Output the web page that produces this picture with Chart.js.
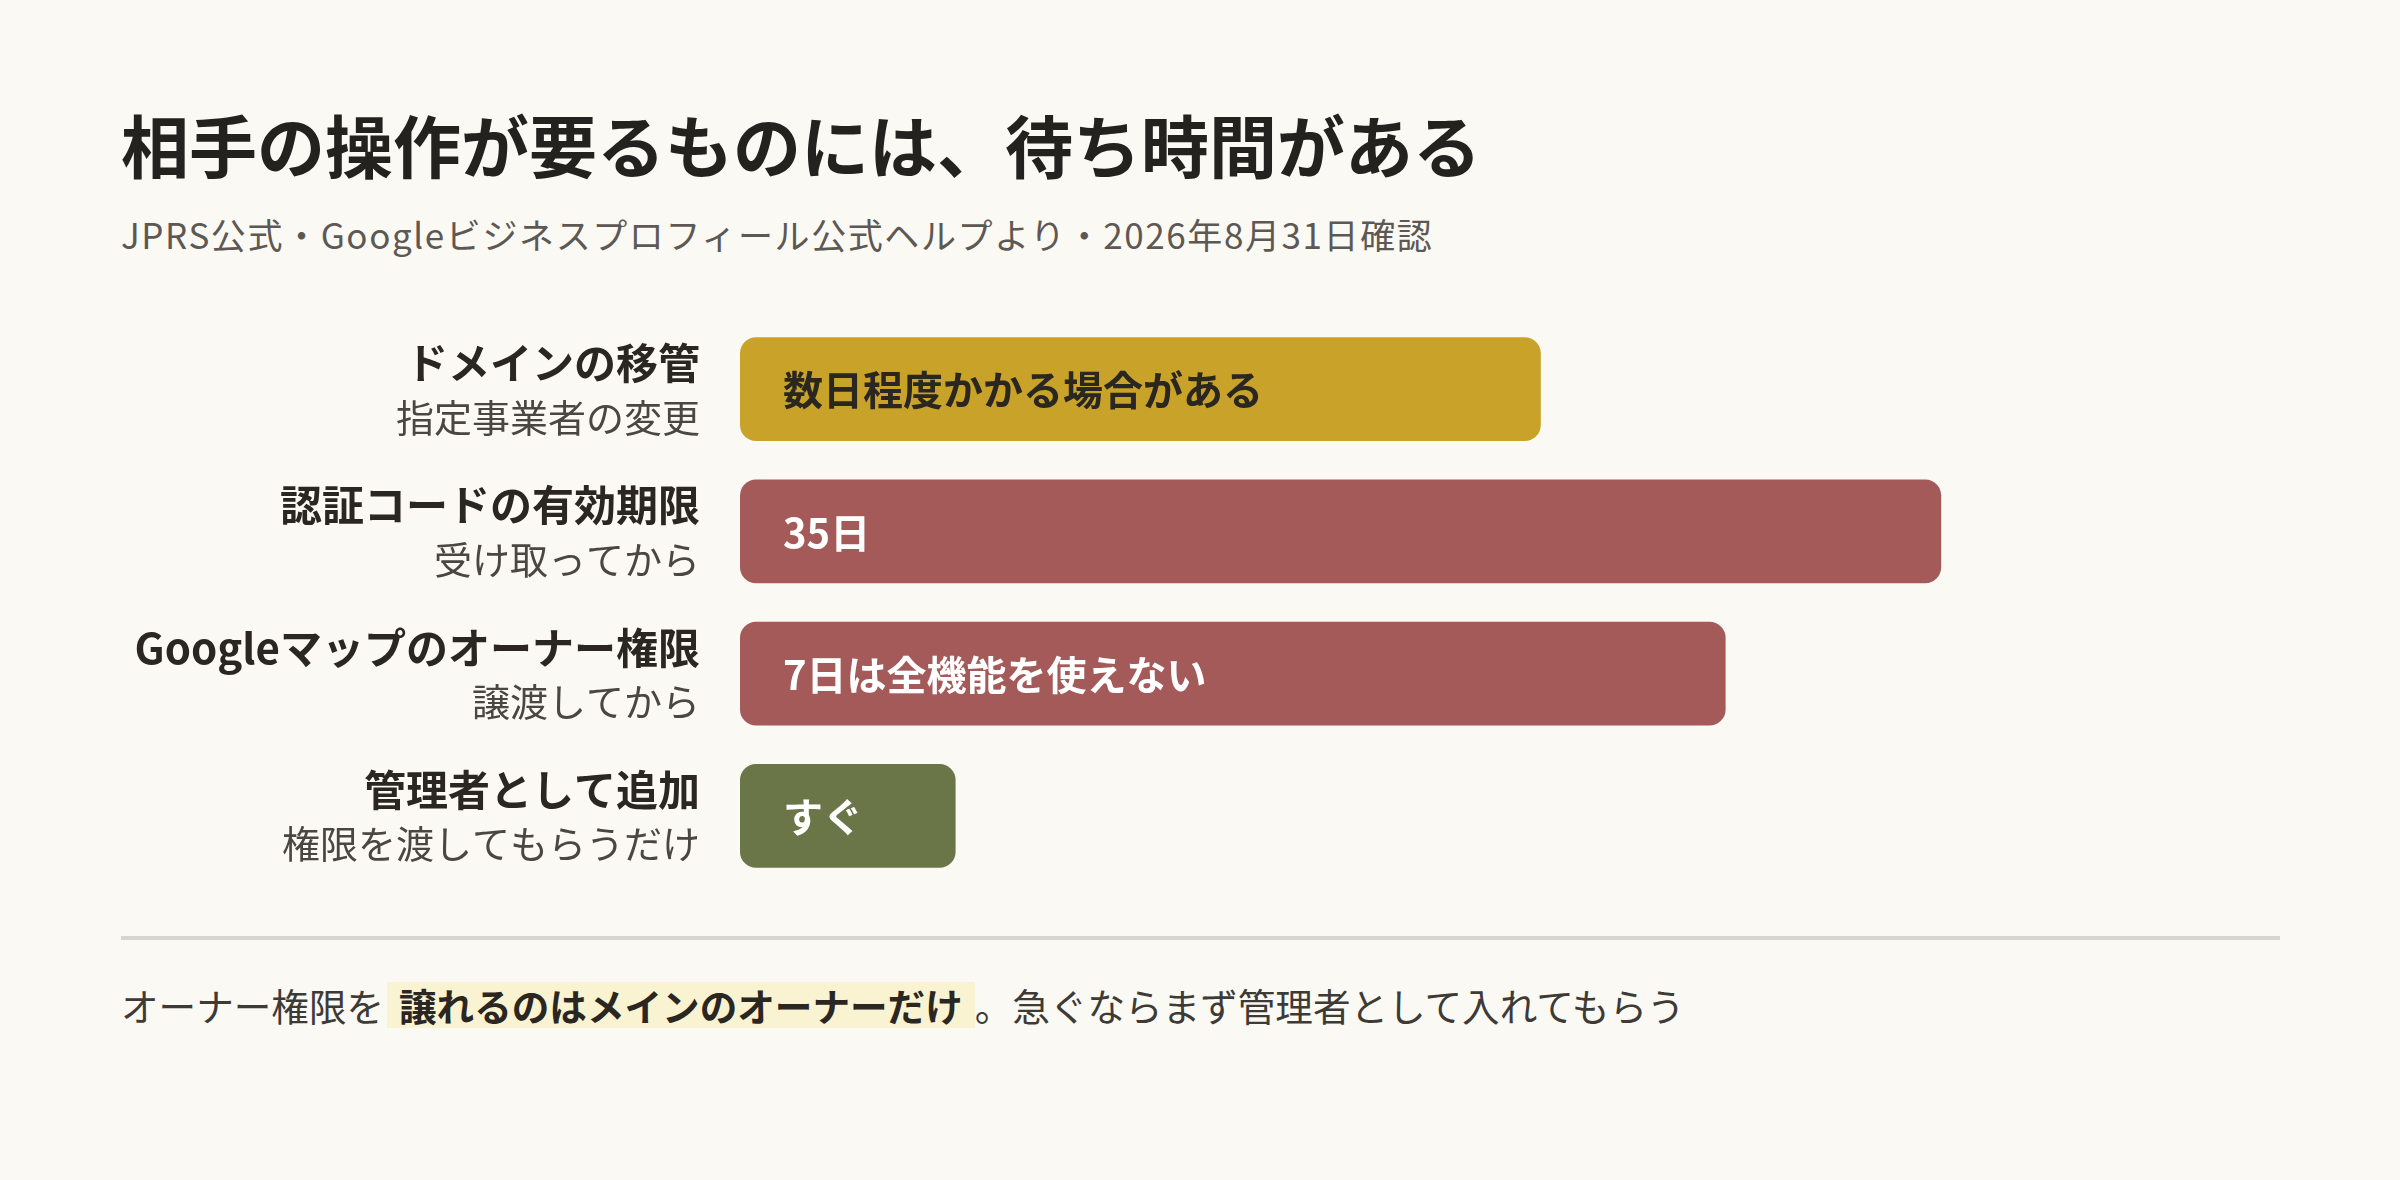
<!DOCTYPE html>
<html lang="ja">
<head>
<meta charset="utf-8">
<script src="https://cdn.jsdelivr.net/npm/chart.js@4"></script>
<style>
  html, body {
    margin: 0;
    padding: 0;
    width: 2400px;
    height: 1180px;
    background: #faf9f4;
    font-family: "Noto Sans CJK JP", "Noto Sans", sans-serif;
    overflow: hidden;
  }
  .title {
    position: absolute;
    left: 121px;
    top: 110px;
    font-size: 68px;
    line-height: 68px;
    font-weight: 700;
    color: #24221f;
    white-space: nowrap;
  }
  .subtitle {
    position: absolute;
    left: 121px;
    top: 216px;
    font-size: 35px;
    line-height: 35px;
    letter-spacing: 1.6px;
    color: #5d5853;
    white-space: nowrap;
  }
  .chart-box {
    position: absolute;
    left: 0;
    top: 300px;
    width: 2400px;
    height: 620px;
  }
  .rule {
    position: absolute;
    left: 121px;
    top: 936px;
    width: 2159px;
    height: 4px;
    background: #d7d5cf;
  }
  .note {
    position: absolute;
    left: 121px;
    top: 982px;
    height: 46px;
    display: flex;
    align-items: center;
    font-size: 37.6px;
    line-height: 46px;
    color: #3e3a36;
    white-space: nowrap;
  }
  .note .hl {
    display: inline-block;
    background: #faf3d2;
    font-weight: 700;
    color: #2a2723;
    padding: 0 12px 0 12px;
    margin-left: 3px;
  }
</style>
</head>
<body>
<div class="title">相手の操作が要るものには、待ち時間がある</div>
<div class="subtitle">JPRS公式・Googleビジネスプロフィール公式ヘルプより・2026年8月31日確認</div>
<div class="chart-box"><canvas id="chart"></canvas></div>
<div class="rule"></div>
<div class="note"><span>オーナー権限を</span><span class="hl">譲れるのはメインのオーナーだけ</span><span>。急ぐならまず管理者として入れてもらう</span></div>

<script>
// ── DATA ────────────────────────────────────────────────
const categories = ["ドメインの移管", "認証コードの有効期限", "Googleマップのオーナー権限", "管理者として追加"];
const subLabels  = ["指定事業者の変更", "受け取ってから", "譲渡してから", "権限を渡してもらうだけ"];
const barTexts   = ["数日程度かかる場合がある", "35日", "7日は全機能を使えない", "すぐ"];
const barValues  = [52, 78, 64, 14];   // relative bar length (0–100)

// ── STYLE ───────────────────────────────────────────────
const barColors  = ["#c9a229", "#a55a5a", "#a55a5a", "#6a7648"];
const textColors = ["#2a2620", "#ffffff", "#ffffff", "#ffffff"];
const FONT = "'Noto Sans CJK JP', 'Noto Sans', sans-serif";

// labels left of the bars + text inside the bars
const barLabels = {
  id: "barLabels",
  afterDatasetsDraw(chart) {
    const ctx = chart.ctx;
    const meta = chart.getDatasetMeta(0);
    ctx.save();
    ctx.textBaseline = "middle";
    meta.data.forEach((bar, i) => {
      const y = bar.y;

      ctx.textAlign = "right";
      ctx.fillStyle = "#2a2723";
      ctx.font = "700 42px " + FONT;
      ctx.fillText(categories[i], 700, y - 26);

      ctx.fillStyle = "#4a4641";
      ctx.font = "400 38px " + FONT;
      ctx.fillText(subLabels[i], 700, y + 28);

      ctx.textAlign = "left";
      ctx.fillStyle = textColors[i];
      ctx.font = "700 40px " + FONT;
      ctx.fillText(barTexts[i], bar.base + 43, y + 1);
    });
    ctx.restore();
  },
};

const ctx = document.getElementById("chart").getContext("2d");
const chart = new Chart(ctx, {
  type: "bar",
  data: {
    labels: categories,
    datasets: [{
      data: barValues,
      backgroundColor: barColors,
      borderRadius: 16,
      borderSkipped: false,
      barPercentage: 0.73,
      categoryPercentage: 1,
    }],
  },
  options: {
    indexAxis: "y",
    responsive: true,
    maintainAspectRatio: false,
    devicePixelRatio: 1,
    animation: false,
    layout: { padding: { left: 740, right: 120, top: 18, bottom: 33 } },
    plugins: {
      legend: { display: false },
      tooltip: { enabled: false },
    },
    scales: {
      x: { display: false, min: 0, max: 100 },
      y: { display: false },
    },
  },
  plugins: [barLabels],
});
</script>
</body>
</html>
